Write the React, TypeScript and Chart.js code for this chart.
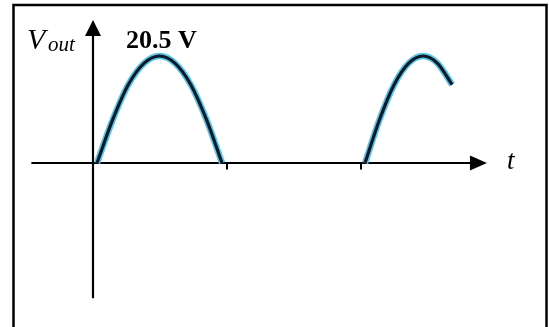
import { useEffect, useRef } from "react";
import { Chart, registerables } from "chart.js";

Chart.register(...registerables);

const W = 549;
const H = 327;

// Time is measured in half-periods of the input; voltage in volts.
// First positive half-cycle of the rectified output
const arc1Time = [0.03, 0.147, 0.263, 0.38, 0.497, 0.613, 0.73, 0.847, 0.963];
const arc1Volts = [0, 8.3, 15.0, 19.1, 20.5, 19.1, 15.0, 8.3, 0];
// Next positive half-cycle, cut off before it finishes
const arc2Time = [2.03, 2.138, 2.247, 2.355, 2.463, 2.571, 2.68];
const arc2Volts = [0, 8.3, 15.0, 19.1, 20.5, 19.1, 15.0];
// Tick marks along the time axis
const timeTicks = [1, 2];
// Peak output voltage
const peakValue = 20.5;
const peakText = `${peakValue} V`;

const SERIF = '"Liberation Serif", "Times New Roman", serif';
const HALO = "#5cc3ea";
const CORE = "#0a1a26";

const toPoints = (t: number[], v: number[]) => t.map((x, i) => ({ x, y: v[i] }));

const axesPlugin = {
  id: "rectifierAxes",
  beforeDatasetsDraw(chart: any) {
    const { ctx } = chart;
    const xs = chart.scales.x;
    const ys = chart.scales.y;
    const x0 = xs.getPixelForValue(0);
    const y0 = ys.getPixelForValue(0);
    ctx.save();
    ctx.strokeStyle = "#000";
    ctx.fillStyle = "#000";

    // surrounding frame
    ctx.lineWidth = 2.5;
    ctx.strokeRect(13.5, 5, 533, 345);

    // time axis
    const xStart = xs.getPixelForValue(-0.46);
    const xTip = xs.getPixelForValue(2.94);
    ctx.lineWidth = 2.2;
    ctx.beginPath();
    ctx.moveTo(xStart, y0);
    ctx.lineTo(xTip - 12, y0);
    ctx.stroke();
    ctx.beginPath();
    ctx.moveTo(xTip, y0);
    ctx.lineTo(xTip - 17, y0 - 7.5);
    ctx.lineTo(xTip - 17, y0 + 7.5);
    ctx.closePath();
    ctx.fill();

    // voltage axis
    const yBottom = ys.getPixelForValue(-25.9);
    const yTip = ys.getPixelForValue(27.4);
    ctx.beginPath();
    ctx.moveTo(x0, yBottom);
    ctx.lineTo(x0, yTip + 12);
    ctx.stroke();
    ctx.beginPath();
    ctx.moveTo(x0, yTip);
    ctx.lineTo(x0 - 8, yTip + 16);
    ctx.lineTo(x0 + 8, yTip + 16);
    ctx.closePath();
    ctx.fill();

    // tick marks
    ctx.lineWidth = 2;
    timeTicks.forEach((t) => {
      const px = xs.getPixelForValue(t);
      ctx.beginPath();
      ctx.moveTo(px, y0);
      ctx.lineTo(px, y0 + 6.5);
      ctx.stroke();
    });
    ctx.restore();
  },
  afterDraw(chart: any) {
    const { ctx } = chart;
    const xs = chart.scales.x;
    const ys = chart.scales.y;
    const y0 = ys.getPixelForValue(0);
    ctx.save();
    ctx.fillStyle = "#000";
    ctx.textBaseline = "alphabetic";
    ctx.textAlign = "left";

    // V_out
    ctx.font = `italic 30px ${SERIF}`;
    ctx.fillText("V", 27, 49);
    ctx.font = `italic 21px ${SERIF}`;
    ctx.fillText("out", 48, 51);

    // peak label
    ctx.font = `bold 26px ${SERIF}`;
    ctx.fillText(peakText, 126, 48);

    // t
    ctx.font = `italic 27px ${SERIF}`;
    ctx.fillText("t", xs.getPixelForValue(3.09), y0 + 6);
    ctx.restore();
  },
};

function makeArc(t: number[], v: number[], color: string, width: number, order: number) {
  return {
    data: toPoints(t, v),
    borderColor: color,
    borderWidth: width,
    order,
    pointRadius: 0,
    fill: false,
    cubicInterpolationMode: "monotone" as const,
    borderCapStyle: "butt" as const,
    clip: false as const,
  };
}

export default function App() {
  const canvasRef = useRef<HTMLCanvasElement | null>(null);

  useEffect(() => {
    if (!canvasRef.current) return;
    const chart = new Chart(canvasRef.current, {
      type: "line",
      data: {
        datasets: [
          makeArc(arc1Time, arc1Volts, HALO, 6.5, 2),
          makeArc(arc2Time, arc2Volts, HALO, 6.5, 2),
          makeArc(arc1Time, arc1Volts, CORE, 3.2, 1),
          makeArc(arc2Time, arc2Volts, CORE, 3.2, 1),
        ],
      },
      options: {
        animation: false,
        responsive: false,
        maintainAspectRatio: false,
        layout: { padding: 0 },
        plugins: {
          legend: { display: false },
          tooltip: { enabled: false },
          title: { display: false },
        },
        events: [],
        scales: {
          x: { type: "linear", display: false, min: -0.694, max: 3.403 },
          y: { type: "linear", display: false, min: -31.42, max: 31.23 },
        },
      },
      plugins: [axesPlugin],
    });
    return () => chart.destroy();
  }, []);

  return (
    <div style={{ position: "fixed", left: 0, top: 0, width: W, height: H, background: "#fff" }}>
      <canvas ref={canvasRef} width={W} height={H} style={{ display: "block" }} />
    </div>
  );
}
